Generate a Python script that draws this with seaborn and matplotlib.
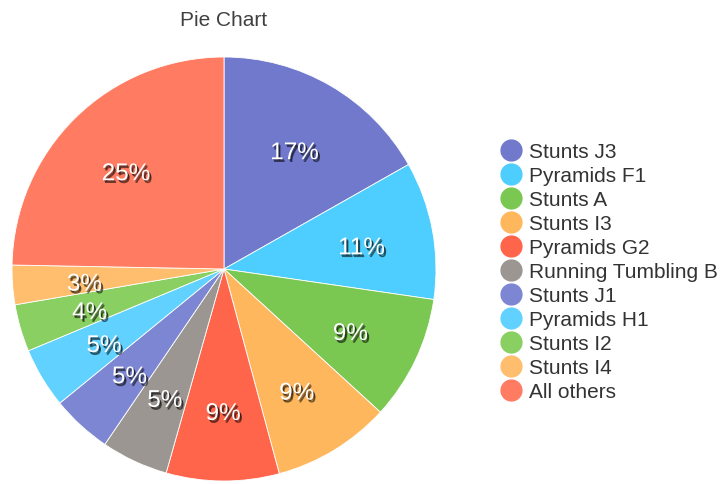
import matplotlib
matplotlib.use("Agg")
import matplotlib.pyplot as plt
import matplotlib.patheffects as pe
from matplotlib.lines import Line2D
import numpy as np
import seaborn as sns

# slice data, clockwise from 12 o'clock
categories = ["Stunts J3", "Pyramids F1", "Stunts A", "Stunts I3", "Pyramids G2",
              "Running Tumbling B", "Stunts J1", "Pyramids H1", "Stunts I2",
              "Stunts I4", "All others"]
shares = [16.8, 10.5, 9.5, 9.0, 8.6, 5.1, 4.6, 4.6, 3.6, 3.0, 24.7]
pct_labels = ["17%", "11%", "9%", "9%", "9%", "5%", "5%", "5%", "4%", "3%", "25%"]
slice_colors = ["#7079cc", "#4ecefe", "#7ac852", "#ffb75d", "#ff654b",
                "#9b9691", "#7d86d2", "#61d2ff", "#89cf62", "#ffbe6e", "#ff7c63"]

sns.set_theme(style="white")
plt.rcParams["font.family"] = ["Liberation Sans", "DejaVu Sans"]
palette = sns.color_palette(slice_colors)

W, H = 722, 485
fig = plt.figure(figsize=(W / 100, H / 100), dpi=100)

# pie centre (224, 270) px, radius 212 px
cx, cy, r = 224, 270, 212
ax = fig.add_axes([(cx - r) / W, (H - cy - r) / H, 2 * r / W, 2 * r / H])
ax.set_aspect("equal")

wedges, _ = ax.pie(shares, colors=palette, startangle=90, counterclock=False,
                   radius=1.0, wedgeprops=dict(linewidth=0.6, edgecolor="white"))
ax.set_xlim(-1, 1)
ax.set_ylim(-1, 1)

shadow = [pe.SimplePatchShadow(offset=(1.5, -2), shadow_rgbFace="black", alpha=0.55),
          pe.SimplePatchShadow(offset=(1, -1), shadow_rgbFace="black", alpha=0.4),
          pe.Normal()]
for w, lab in zip(wedges, pct_labels):
    ang = np.deg2rad((w.theta1 + w.theta2) / 2)
    ax.text(0.66 * np.cos(ang), 0.66 * np.sin(ang) - 0.024, lab, ha="center", va="center",
            color="white", fontsize=17.5, path_effects=shadow)

fig.text(cx / W, 1 - 20 / H, "Pie Chart", ha="center", va="center",
         fontsize=15, color="#404040")

handles = [Line2D([0], [0], marker="o", linestyle="", markersize=15,
                  markerfacecolor=c, markeredgecolor=c) for c in palette]
fig.legend(handles, categories, loc="center left", bbox_to_anchor=(500 / W, 1 - 273 / H),
           frameon=False, fontsize=15, handlelength=1.1, handletextpad=0.3,
           labelspacing=0.24, borderpad=0, borderaxespad=0, labelcolor="#333333")

fig.savefig("out.png", dpi=100)
